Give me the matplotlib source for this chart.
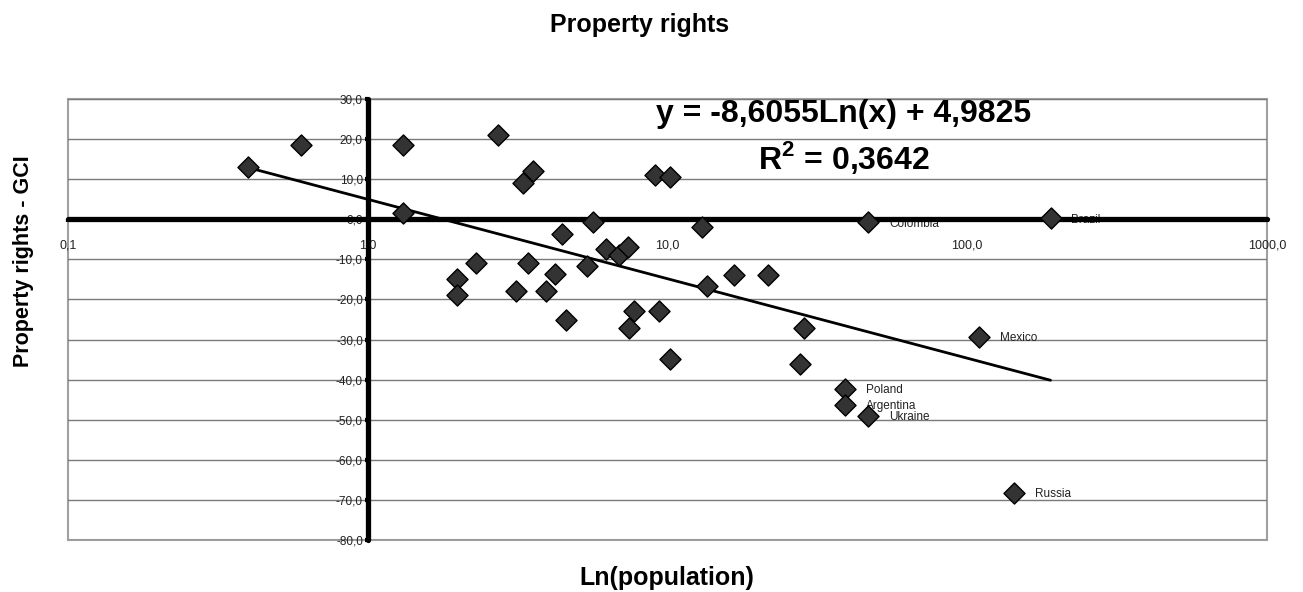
import matplotlib
matplotlib.use("Agg")
import matplotlib.pyplot as plt
import numpy as np
from matplotlib.patches import Rectangle

plt.rcParams['font.family'] = ['Liberation Sans', 'DejaVu Sans']
plt.rcParams['mathtext.fontset'] = 'custom'
plt.rcParams['mathtext.rm'] = 'Liberation Sans'
plt.rcParams['mathtext.bf'] = 'Liberation Sans:bold'

# population (millions, log axis) vs property rights gap to GCI
population = [0.40, 0.60, 1.31, 1.31, 1.99, 1.99, 2.30, 2.72, 3.13, 3.30,
              3.43, 3.56, 3.94, 4.20, 4.45, 4.59, 5.40, 5.66, 6.25, 6.91,
              7.41, 7.46, 7.76, 9.05, 9.40, 10.2, 10.2, 13.0, 13.5, 16.7,
              21.6, 27.6, 28.5, 39.1, 39.1, 46.7, 46.7, 109.7, 143.6, 189.6]
property_gap = [13.0, 18.5, 18.5, 1.5, -15.0, -19.0, -11.0, 21.0, -18.0, 9.0,
                -11.0, 12.0, -18.0, -13.75, -3.75, -25.0, -11.75, -0.75, -7.5, -9.0,
                -7.0, -27.0, -23.0, 11.0, -23.0, 10.5, -34.75, -2.0, -16.75, -14.0,
                -14.0, -36.0, -27.0, -42.25, -46.25, -0.75, -49.0, -29.25, -68.25, 0.25]
country = [''] * 33 + ['Poland', 'Argentina', 'Colombia', 'Ukraine', 'Mexico', 'Russia', 'Brazil']

# Excel logarithmic trendline
trend_slope = -8.6055
trend_intercept = 4.9825
r_squared = "0,3642"

x_ticks = [0.1, 1, 10, 100, 1000]
x_tick_labels = ["0,1", "1,0", "10,0", "100,0", "1000,0"]
y_ticks = list(range(-80, 31, 10))


def comma(v, digits=1):
    return f"{v:.{digits}f}".replace('.', ',')


fig = plt.figure(figsize=(13.03, 5.92), dpi=100)
ax = fig.add_axes([68 / 1303, 1 - 540 / 592, 1199 / 1303, 441 / 592])

ax.set_xscale('log')
ax.set_xlim(0.1, 1000)
ax.set_ylim(-80, 30)

# trendline evaluated at the data x values, like Excel does
tx = np.unique(population)
ty = trend_slope * np.log(tx) + trend_intercept
ax.plot(tx, ty, color='black', lw=2.0, zorder=2.2, solid_capstyle='round')

ax.scatter(population, property_gap, marker='D', s=115, facecolor='#333333',
           edgecolor='black', linewidth=1.0, zorder=3)

for px, py, name in zip(population, property_gap, country):
    if name:
        ax.annotate(name, (px, py), xytext=(15, -1), textcoords='offset points',
                    fontsize=8.5, color='#222222', va='center', ha='left', zorder=2)

# axes crossing at x=1 and y=0
ax.spines['left'].set_position(('data', 1.0))
ax.spines['bottom'].set_position(('data', 0.0))
ax.spines['top'].set_visible(False)
ax.spines['right'].set_visible(False)
for side in ['left', 'bottom']:
    ax.spines[side].set_linewidth(3.8)
    ax.spines[side].set_capstyle('round')
    ax.spines[side].set_zorder(2.5)

ax.set_xticks(x_ticks)
ax.set_xticklabels(x_tick_labels)
ax.xaxis.set_minor_locator(matplotlib.ticker.NullLocator())
ax.set_yticks(y_ticks)
ax.set_yticklabels([comma(v) for v in y_ticks])
ax.tick_params(axis='x', direction='out', length=2.5, width=3, pad=12,
               labelsize=9, colors='black', labelcolor='#222222')
ax.tick_params(axis='y', direction='out', length=2.5, width=3, pad=1,
               labelsize=8.5, colors='black', labelcolor='#222222')

ax.set_axisbelow(True)
ax.yaxis.grid(True, color='#7a7a7a', lw=1.0)
ax.xaxis.grid(False)

ax.add_patch(Rectangle((0, 0), 1, 1, transform=ax.transAxes, fill=False,
                       edgecolor='#a0a0a0', lw=1.5, zorder=0.4, clip_on=False))

fig.text(640 / 1303, 1 - 25 / 592, "Property rights", ha='center', va='center',
         fontsize=18, fontweight='bold')
fig.text(24 / 1303, 1 - 261 / 592, "Property rights - GCI", ha='center', va='center',
         rotation=90, fontsize=15.5, fontweight='bold')
fig.text(667 / 1303, 1 - 578 / 592, "Ln(population)", ha='center', va='center',
         fontsize=18, fontweight='bold')

fig.text(844 / 1303, 1 - 114 / 592,
         f"y = {comma(trend_slope, 4)}Ln(x) + {comma(trend_intercept, 4)}",
         ha='center', va='center', fontsize=23, fontweight='bold')
fig.text(844 / 1303, 1 - 158 / 592, r"R$^{\mathbf{2}}$ = " + r_squared,
         ha='center', va='center', fontsize=23, fontweight='bold')

fig.savefig("out.png", dpi=100)
